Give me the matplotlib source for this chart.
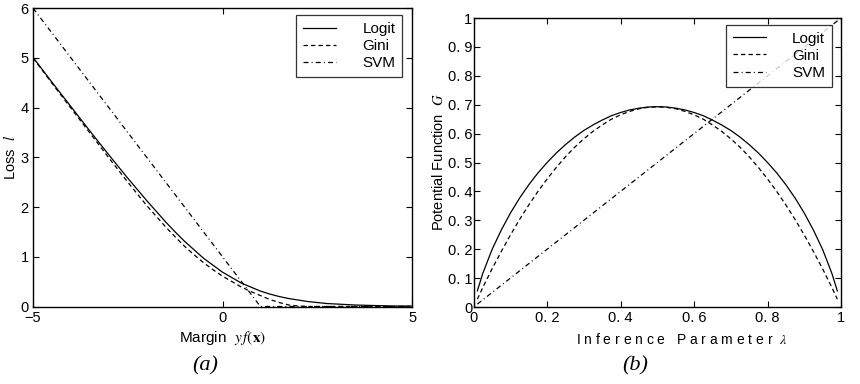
import numpy as np
import matplotlib
matplotlib.use('Agg')
import matplotlib.pyplot as plt

plt.rcParams['font.family'] = ['Liberation Sans', 'DejaVu Sans']
plt.rcParams['mathtext.fontset'] = 'stix'

# (a) loss vs margin
margin = [-5, -4.5, -4, -3.5, -3, -2.5, -2, -1.5, -1.25, -1, -0.75, -0.5, -0.25, 0, 0.25, 0.5,
          0.75, 1, 1.25, 1.5, 1.75, 2, 2.25, 2.5, 2.75, 3, 3.5, 4, 4.5, 5]
loss_logit = [5.01, 4.51, 4.02, 3.53, 3.05, 2.58, 2.13, 1.70, 1.50, 1.31, 1.14, 0.97, 0.83, 0.69,
              0.58, 0.47, 0.39, 0.31, 0.25, 0.20, 0.16, 0.13, 0.10, 0.08, 0.06, 0.05, 0.03,
              0.02, 0.01, 0.01]
loss_gini = [5.00, 4.49, 3.99, 3.49, 2.99, 2.50, 2.03, 1.60, 1.40, 1.21, 1.04, 0.88, 0.74, 0.61,
             0.50, 0.39, 0.30, 0.22, 0.14, 0.08, 0.03, 0.01, 0.0, 0.0, 0.0, 0.0, 0.0,
             0.0, 0.0, 0.0]
margin_svm = [-5, 1, 5]
loss_svm = [6, 0, 0]

# (b) potential function vs inference parameter
lam = [0.01, 0.025, 0.05, 0.075, 0.1, 0.125, 0.15, 0.175, 0.2, 0.225, 0.25, 0.275, 0.3,
       0.325, 0.35, 0.375, 0.4, 0.425, 0.45, 0.475, 0.5, 0.525, 0.55, 0.575, 0.6, 0.625,
       0.65, 0.675, 0.7, 0.725, 0.75, 0.775, 0.8, 0.825, 0.85, 0.875, 0.9, 0.925, 0.95,
       0.975, 0.99]
G_logit = [0.056, 0.117, 0.199, 0.266, 0.325, 0.377, 0.423, 0.464, 0.500, 0.533, 0.562,
           0.588, 0.611, 0.630, 0.647, 0.662, 0.673, 0.682, 0.688, 0.692, 0.693, 0.692,
           0.688, 0.682, 0.673, 0.662, 0.647, 0.630, 0.611, 0.588, 0.562, 0.533, 0.500,
           0.464, 0.423, 0.377, 0.325, 0.266, 0.199, 0.117, 0.056]
G_gini = [0.027, 0.068, 0.132, 0.192, 0.249, 0.303, 0.353, 0.400, 0.443, 0.483, 0.520,
          0.553, 0.582, 0.608, 0.630, 0.650, 0.665, 0.677, 0.686, 0.691, 0.693, 0.691,
          0.686, 0.677, 0.665, 0.650, 0.630, 0.608, 0.582, 0.553, 0.520, 0.483, 0.443,
          0.400, 0.353, 0.303, 0.249, 0.192, 0.132, 0.068, 0.027]
lam_svm = [0.01, 1.0]
G_svm = [0.01, 1.0]

xticks_b = [0, 0.2, 0.4, 0.6, 0.8, 1]
xticklabels_b = ['0', '0. 2', '0. 4', '0. 6', '0. 8', '1']
yticks_b = [0, 0.1, 0.2, 0.3, 0.4, 0.5, 0.6, 0.7, 0.8, 0.9, 1]
yticklabels_b = ['0', '0. 1', '0. 2', '0. 3', '0. 4', '0. 5', '0. 6', '0. 7', '0. 8', '0. 9', '1']

dashed = (0, (3.5, 2.5))
dashdot = (0, (4, 2.5, 0.8, 2.5))
lw = 0.9

fig = plt.figure(figsize=(8.6, 3.84), dpi=100)
ax1 = fig.add_axes([0.0384, 0.2018, 0.4407, 0.777])
ax2 = fig.add_axes([0.5508, 0.2005, 0.4271, 0.7526])

def style_axes(ax):
    ax.tick_params(direction='in', length=4, width=0.8, top=True, right=True,
                   labelsize=10.5, pad=3)
    for s in ax.spines.values():
        s.set_linewidth(1.0)
        s.set_color('black')

def add_legend(ax, xanchor):
    leg = ax.legend(loc='upper right', bbox_to_anchor=(xanchor, 1.0), fancybox=False,
                    edgecolor='black', fontsize=11, handlelength=2.2, handletextpad=1.7,
                    borderpad=0.45, labelspacing=0.2, borderaxespad=0.45)
    leg.get_frame().set_linewidth(0.9)
    return leg

# left panel
ax1.plot(margin, loss_logit, color='black', lw=lw, label='Logit')
ax1.plot(margin, loss_gini, color='black', lw=lw, linestyle=dashed, label='Gini')
ax1.plot(margin_svm, loss_svm, color='black', lw=lw, linestyle=dashdot, label='SVM')
ax1.set_xlim(-5, 5)
ax1.set_ylim(0, 6)
ax1.set_xticks([-5, 0, 5])
ax1.set_xticklabels(['\u22125', '0', '5'])
ax1.set_yticks([0, 1, 2, 3, 4, 5, 6])
style_axes(ax1)
ax1.set_xlabel(r'Margin  $y\,f(\mathbf{x})$', fontsize=11, labelpad=3)
ax1.set_ylabel(r'Loss  $l$', fontsize=10.5, labelpad=2)
add_legend(ax1, 1 - 3 / 379)

# right panel
ax2.plot(lam, G_logit, color='black', lw=lw, label='Logit')
ax2.plot(lam, G_gini, color='black', lw=lw, linestyle=dashed, label='Gini')
ax2.plot(lam_svm, G_svm, color='black', lw=lw, linestyle=dashdot, label='SVM')
ax2.set_xlim(0, 1)
ax2.set_ylim(0, 1)
ax2.set_xticks(xticks_b)
ax2.set_xticklabels(xticklabels_b)
ax2.set_yticks(yticks_b)
ax2.set_yticklabels(yticklabels_b)
style_axes(ax2)
ax2.tick_params(axis='y', pad=1)
ax2.set_xlabel(r'I n f e r e n c e   P a r a m e t e r  $\lambda$', fontsize=10, labelpad=3)
ax2.xaxis.set_label_coords(0.567, -0.085)
ax2.set_ylabel(r'Potential Function  $G$', fontsize=10.5, labelpad=1)
add_legend(ax2, 1 - 2 / 367)

fig.text(0.238, 0.047, '(a)', fontsize=16, fontstyle='italic', family='Liberation Serif',
         ha='center', va='center')
fig.text(0.739, 0.047, '(b)', fontsize=16, fontstyle='italic', family='Liberation Serif',
         ha='center', va='center')

fig.savefig('out.png', dpi=100)
